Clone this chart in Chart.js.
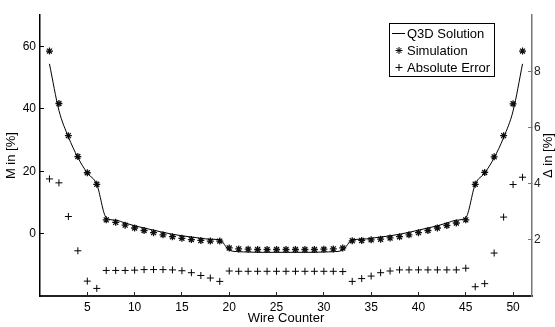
<!DOCTYPE html>
<html>
<head>
<meta charset="utf-8">
<script src="https://cdn.jsdelivr.net/npm/chart.js@4.4.1/dist/chart.umd.min.js"></script>
<style>
  html, body { margin: 0; padding: 0; background: #fff; }
  canvas { display: block; }
</style>
</head>
<body>
<canvas id="wireChart" width="555" height="327"></canvas>
<script>
const wires = [1, 2, 3, 4, 5, 6, 7, 8, 9, 10, 11, 12, 13, 14, 15, 16, 17, 18, 19, 20,
    21, 22, 23, 24, 25, 26, 27, 28, 29, 30, 31, 32, 33, 34, 35, 36, 37, 38, 39, 40,
    41, 42, 43, 44, 45, 46, 47, 48, 49, 50, 51];

// M in [%], left axis
const q3dSolution = [54.4, 39.5, 31.0, 24.4, 19.4, 15.8, 5.1, 4.3, 3.4, 2.5, 1.8, 1.1, 0.4, -0.2, -0.7, -1.1, -1.5, -1.8, -2.0,
    -5.3, -5.8, -5.9, -6.0, -6.0, -6.0, -6.0, -6.0, -6.0, -6.0, -5.9, -5.8, -5.3,
    -2.0, -1.8, -1.5, -1.1, -0.7, -0.2, 0.4, 1.1, 1.8, 2.5, 3.4, 4.3, 5.1, 15.8, 19.4, 24.3, 30.8, 39.3, 54.4];

const simulation = [58.5, 41.7, 31.4, 24.7, 19.5, 15.8, 4.4, 3.6, 2.7, 1.8, 1.0, 0.3, -0.4, -1.0, -1.5, -1.9, -2.2, -2.4, -2.4,
    -4.6, -4.9, -5.0, -5.1, -5.1, -5.1, -5.1, -5.1, -5.1, -5.1, -5.0, -4.9, -4.6,
    -2.3, -2.2, -2.0, -1.8, -1.4, -1.0, -0.4, 0.3, 1.0, 1.8, 2.6, 3.4, 4.4, 15.8, 19.6, 24.6, 31.4, 41.6, 58.5];

// Delta in [%], right axis
const absoluteError = [4.17, 4.03, 2.83, 1.61, 0.53, 0.27, 0.91, 0.91, 0.91, 0.92, 0.94, 0.94, 0.94, 0.93, 0.90, 0.83, 0.73, 0.64, 0.52,
    0.89, 0.88, 0.88, 0.88, 0.88, 0.88, 0.88, 0.88, 0.88, 0.88, 0.88, 0.88, 0.87,
    0.52, 0.62, 0.71, 0.83, 0.89, 0.93, 0.93, 0.93, 0.93, 0.93, 0.93, 0.93, 0.99, 0.33, 0.44, 1.53, 2.81, 3.97, 4.23];

const xTicks = [5, 10, 15, 20, 25, 30, 35, 40, 45, 50];
const mTicks = [0, 20, 40, 60];
const deltaTicks = [2, 4, 6, 8];

const legendItems = ["Q3D Solution", "Simulation", "Absolute Error"];
const rightTitle = "Δ in [%]";

Chart.defaults.font.family = '"Liberation Sans", Arial, sans-serif';
Chart.defaults.font.size = 12;
Chart.defaults.color = "#000";

const toPoints = (ys) => wires.map((w, i) => ({ x: w, y: ys[i] }));
const setTicks = (values) => (scale) => { scale.ticks = values.map((v) => ({ value: v })); };

// boxed legend in the upper right + right axis label reading bottom-up (chart.js turns it the other way)
const boxLegend = {
    id: "boxLegend",
    afterDraw(chart) {
        const ctx = chart.ctx;
        const x0 = 389.5, y0 = 23.5, w = 105, h = 53, rowH = 17;
        ctx.save();
        ctx.fillStyle = "#fff";
        ctx.fillRect(x0, y0, w, h);
        ctx.strokeStyle = "#000";
        ctx.lineWidth = 1;
        ctx.strokeRect(x0, y0, w, h);

        const cy = y0 + 10;
        ctx.beginPath();
        ctx.moveTo(392, cy);
        ctx.lineTo(405, cy);
        ctx.stroke();
        Chart.helpers.drawPoint(ctx, { pointStyle: "star", radius: 3.5, borderWidth: 1 }, 399, cy + rowH);
        Chart.helpers.drawPoint(ctx, { pointStyle: "cross", radius: 3.5, borderWidth: 1 }, 399, cy + rowH * 2);

        ctx.fillStyle = "#000";
        ctx.font = '13px "Liberation Sans", Arial, sans-serif';
        ctx.textBaseline = "middle";
        legendItems.forEach((label, i) => ctx.fillText(label, 407, cy + rowH * i + 0.5));

        const area = chart.chartArea;
        ctx.translate(548, (area.top + area.bottom) / 2);
        ctx.rotate(-Math.PI / 2);
        ctx.textAlign = "center";
        ctx.fillText(rightTitle, 0, 0);
        ctx.restore();
    },
};

new Chart(document.getElementById("wireChart"), {
    type: "scatter",
    data: {
        datasets: [
            {
                label: legendItems[0],
                data: toPoints(q3dSolution),
                showLine: true,
                borderColor: "#000",
                borderWidth: 1,
                pointRadius: 0,
                cubicInterpolationMode: "monotone",
                yAxisID: "y",
            },
            {
                label: legendItems[1],
                data: toPoints(simulation),
                pointStyle: "star",
                pointRadius: 3.5,
                borderColor: "#111",
                backgroundColor: "#111",
                borderWidth: 1.3,
                yAxisID: "y",
            },
            {
                label: legendItems[2],
                data: toPoints(absoluteError),
                pointStyle: "cross",
                pointRadius: 3.5,
                borderColor: "#000",
                borderWidth: 1,
                yAxisID: "y2",
            },
        ],
    },
    options: {
        responsive: false,
        animation: false,
        layout: { padding: { top: 9, left: 0, right: 0, bottom: 0 } },
        scales: {
            x: {
                type: "linear",
                min: 0,
                max: 52,
                afterBuildTicks: setTicks(xTicks),
                afterFit: (s) => { s.height = 31; },
                border: { display: true, color: "#222", width: 2 },
                grid: { drawOnChartArea: false, tickLength: -4, tickColor: "#222" },
                ticks: { padding: 8, maxRotation: 0, autoSkip: false },
                title: { display: true, text: "Wire Counter", font: { size: 13 }, padding: { top: 0, bottom: 1 } },
            },
            y: {
                position: "left",
                min: -20,
                max: 70,
                afterBuildTicks: setTicks(mTicks),
                afterFit: (s) => { s.width = 40; },
                border: { display: true, color: "#000", width: 1.5 },
                grid: { drawOnChartArea: false, tickLength: -4, tickColor: "#000" },
                ticks: { padding: 8 },
                title: { display: true, text: "M in [%]", font: { size: 13 }, padding: { top: 4, bottom: 0 } },
            },
            y2: {
                position: "right",
                min: 0,
                max: 10,
                afterBuildTicks: setTicks(deltaTicks),
                afterFit: (s) => { s.width = 23; },
                border: { display: true, color: "#777", width: 1.5 },
                grid: { drawOnChartArea: false, tickLength: -4, tickColor: "#777" },
                ticks: { padding: 6, color: "#222" },
                title: { display: false },
            },
        },
        plugins: {
            legend: { display: false },
            tooltip: { enabled: false },
        },
    },
    plugins: [boxLegend],
});
</script>
</body>
</html>
